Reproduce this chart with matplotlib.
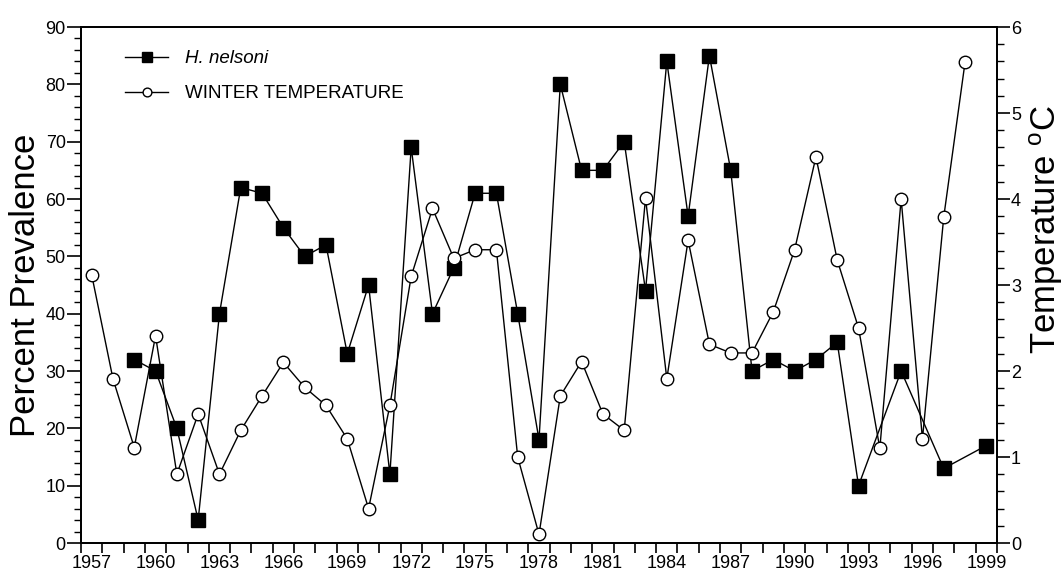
import numpy as np
import matplotlib
matplotlib.use("Agg")
import matplotlib.pyplot as plt
from matplotlib.ticker import MultipleLocator, FixedLocator

plt.rcParams["font.family"] = ["Liberation Sans", "DejaVu Sans"]
plt.rcParams["mathtext.default"] = "regular"

# H. nelsoni prevalence (%), years with data only
prev_years = [1959, 1960, 1961, 1962, 1963, 1964, 1965, 1966, 1967, 1968,
              1969, 1970, 1971, 1972, 1973, 1974, 1975, 1976, 1977, 1978,
              1979, 1980, 1981, 1982, 1983, 1984, 1985, 1986, 1987, 1988,
              1989, 1990, 1991, 1992, 1993, 1995, 1997, 1999]
prevalence = [32, 30, 20, 4, 40, 62, 61, 55, 50, 52,
              33, 45, 12, 69, 40, 48, 61, 61, 40, 18,
              80, 65, 65, 70, 44, 84, 57, 85, 65, 30,
              32, 30, 32, 35, 10, 30, 13, 17]

# winter temperature (deg C), 1957-1998
temp_years = list(range(1957, 1999))
temperature = [3.12, 1.91, 1.11, 2.41, 0.80, 1.50, 0.80, 1.31, 1.71, 2.10,
               1.81, 1.60, 1.21, 0.40, 1.60, 3.10, 3.89, 3.31, 3.41, 3.41,
               1.00, 0.10, 1.71, 2.11, 1.50, 1.31, 4.01, 1.91, 3.52, 2.31,
               2.21, 2.21, 2.69, 3.41, 4.49, 3.29, 2.50, 1.10, 4.00, 1.21,
               3.79, 5.59]

year_labels = list(range(1957, 2000, 3))

fig = plt.figure(figsize=(10.64, 5.76), dpi=100)
ax = fig.add_axes([81 / 1064, 1 - 543 / 576, 916 / 1064, 516 / 576])
ax2 = ax.twinx()

l1, = ax.plot(prev_years, prevalence, color="black", lw=1.0, marker="s",
              markersize=9.5, markerfacecolor="black", markeredgecolor="black",
              label="H. nelsoni", zorder=3)
l2, = ax2.plot(temp_years, temperature, color="black", lw=1.0, marker="o",
               markersize=9, markerfacecolor="white", markeredgecolor="black",
               markeredgewidth=1.0, label="WINTER TEMPERATURE", zorder=2)

# x axis: ticks on year boundaries, labels centred on the years
ax.set_xlim(1956.5, 1999.5)
ax.xaxis.set_major_locator(FixedLocator(year_labels))
ax.xaxis.set_minor_locator(MultipleLocator(1, offset=0.5))
ax.tick_params(axis="x", which="major", length=0, pad=9, labelsize=13)
ax.tick_params(axis="x", which="minor", length=7, width=1.2, direction="out")

ax.set_ylim(0, 90)
ax.yaxis.set_major_locator(MultipleLocator(10))
ax.yaxis.set_minor_locator(MultipleLocator(2))
ax.tick_params(axis="y", which="major", length=10, width=1.2, pad=1, labelsize=13)
ax.tick_params(axis="y", which="minor", length=5, width=1.0)

ax2.set_ylim(0, 6)
ax2.yaxis.set_major_locator(MultipleLocator(1))
ax2.yaxis.set_minor_locator(MultipleLocator(0.2))
ax2.tick_params(axis="y", which="major", length=9, width=1.2, pad=1, labelsize=13)
ax2.tick_params(axis="y", which="minor", length=5, width=1.0)

for a in (ax, ax2):
    for s in a.spines.values():
        s.set_linewidth(1.3)

ax.set_ylabel("Percent Prevalence", fontsize=25)
ax.yaxis.set_label_coords(-0.043, 0.5)
ax2.set_ylabel("Temperature $^{o}$C", fontsize=25)
ax2.yaxis.set_label_coords(1.033, 0.607)

leg = ax.legend(handles=[l1, l2], loc="upper left",
                bbox_to_anchor=(0.048, 0.955), frameon=False,
                fontsize=13.5, handlelength=2.3, handletextpad=0.9,
                labelspacing=0.95, borderpad=0, borderaxespad=0,
                markerscale=0.7)
leg.get_texts()[0].set_fontstyle("italic")

fig.savefig("out.png", dpi=100)
